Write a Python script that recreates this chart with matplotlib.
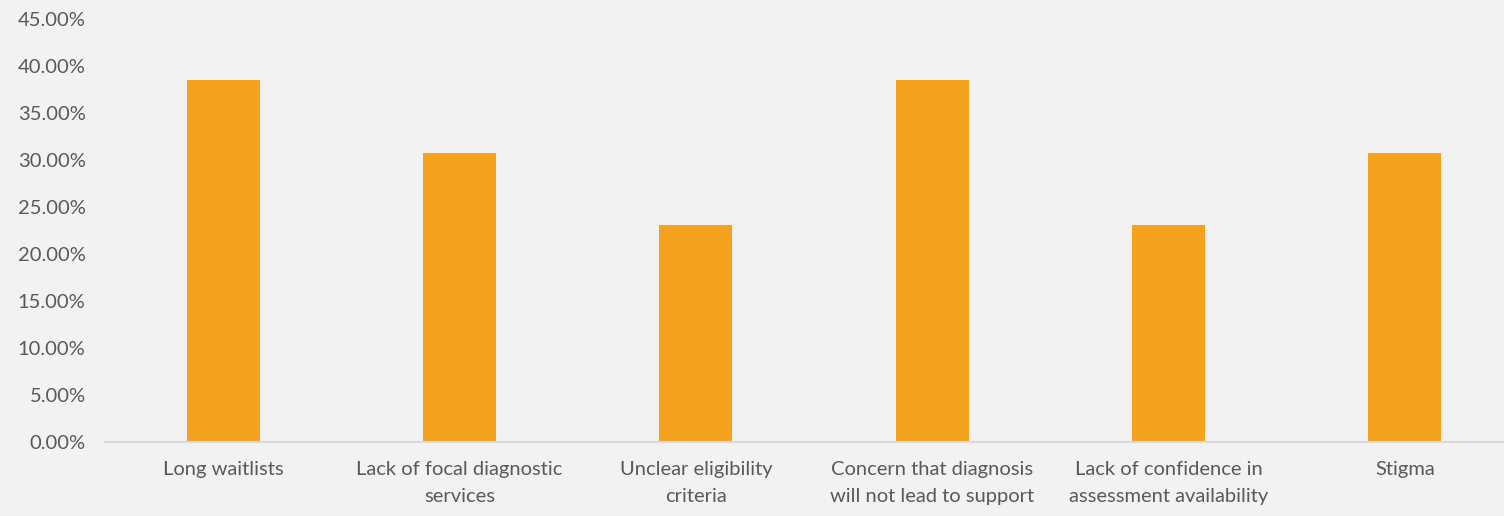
import matplotlib.pyplot as plt
from matplotlib.ticker import FuncFormatter, MultipleLocator

categories = [
    "Long waitlists",
    "Lack of focal diagnostic\nservices",
    "Unclear eligibility\ncriteria",
    "Concern that diagnosis\nwill not lead to support",
    "Lack of confidence in\nassessment availability",
    "Stigma",
]
shares = [38.46, 30.77, 23.08, 38.46, 23.08, 30.77]

bg = "#F2F2F2"
bar_color = "#F5A31F"
text_color = "#595959"

plt.rcParams["font.family"] = ["Lato", "DejaVu Sans"]

fig = plt.figure(figsize=(15.04, 5.16), dpi=100, facecolor=bg)
ax = fig.add_axes([105 / 1504, 1 - 442 / 516, 1418 / 1504, 423 / 516])
ax.set_facecolor(bg)

x = range(len(categories))
ax.bar(x, shares, width=0.31, color=bar_color, zorder=2)

ax.set_xlim(-0.5, len(categories) - 0.5)
ax.set_ylim(0, 45)
ax.yaxis.set_major_locator(MultipleLocator(5))
ax.yaxis.set_major_formatter(FuncFormatter(lambda v, _: f"{v:.2f}%"))

ax.set_xticks(list(x))
ax.set_xticklabels(categories, fontsize=14.5, color=text_color, linespacing=1.65)
ax.tick_params(axis="y", labelsize=14.5, labelcolor=text_color, length=0, pad=14)
ax.tick_params(axis="x", length=0, pad=14)

for side in ("top", "right", "left"):
    ax.spines[side].set_visible(False)
ax.spines["bottom"].set_color("#D9D9D9")
ax.spines["bottom"].set_linewidth(1.5)

fig.savefig("out.png", dpi=100, facecolor=bg)
